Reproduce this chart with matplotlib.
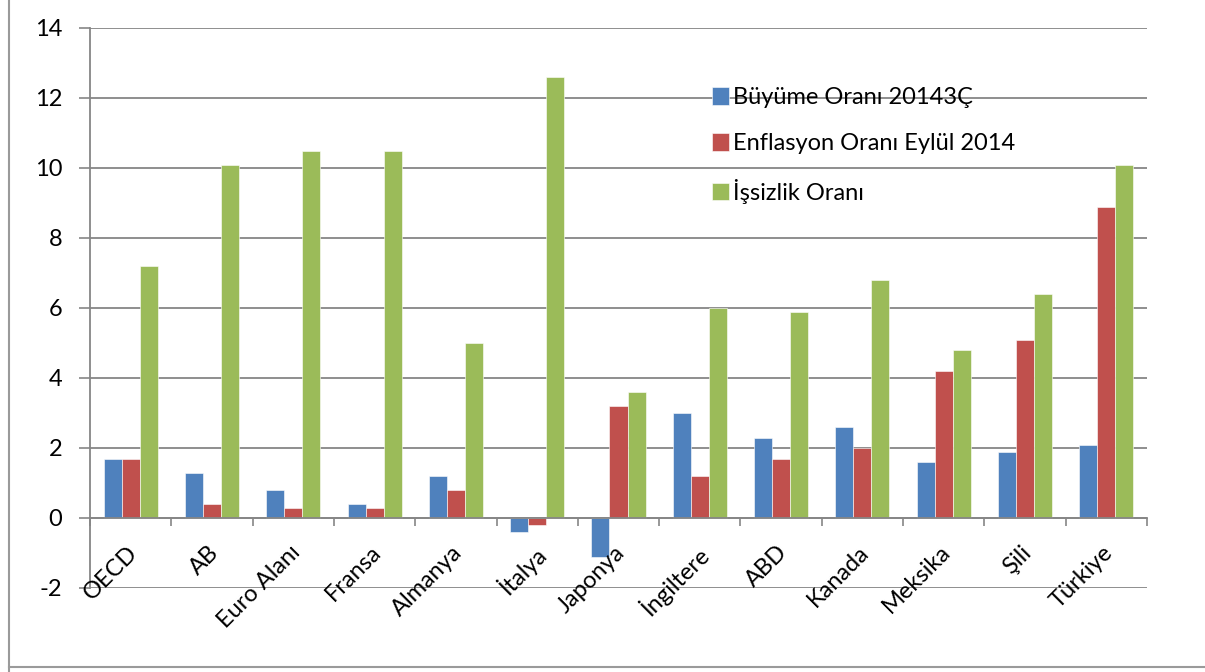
import matplotlib
matplotlib.use("Agg")
import matplotlib.pyplot as plt
from matplotlib.lines import Line2D
import numpy as np

categories = ["OECD", "AB", "Euro Alanı", "Fransa", "Almanya", "İtalya", "Japonya",
              "İngiltere", "ABD", "Kanada", "Meksika", "Şili", "Türkiye"]
buyume = [1.7, 1.3, 0.8, 0.4, 1.2, -0.4, -1.1, 3.0, 2.3, 2.6, 1.6, 1.9, 2.1]
enflasyon = [1.7, 0.4, 0.3, 0.3, 0.8, -0.2, 3.2, 1.2, 1.7, 2.0, 4.2, 5.1, 8.9]
issizlik = [7.2, 10.1, 10.5, 10.5, 5.0, 12.6, 3.6, 6.0, 5.9, 6.8, 4.8, 6.4, 10.1]
series_names = ["Büyüme Oranı 20143Ç", "Enflasyon Oranı Eylül 2014", "İşsizlik Oranı"]
colors = ["#4F81BD", "#C0504D", "#9BBB59"]
yticks = [-2, 0, 2, 4, 6, 8, 10, 12, 14]

plt.rcParams['font.family'] = ['Lato', 'DejaVu Sans']
FS = 17

fig = plt.figure(figsize=(12.05, 6.72), dpi=100)
ax = fig.add_axes([90/1205, 1-588/672, (1147-90)/1205, (588-28)/672])

x = np.arange(len(categories))
w = 0.222
for k, (vals, c, name) in enumerate(zip([buyume, enflasyon, issizlik], colors, series_names)):
    ax.bar(x + (k-1)*w, vals, w, color=c, label=name, edgecolor='white', linewidth=0.4, zorder=3)

ax.set_xlim(-0.5, len(categories)-0.5)
ax.set_ylim(-2, 14)
ax.set_yticks(yticks)
ax.set_yticklabels([str(v) for v in yticks], fontsize=FS)
ax.yaxis.grid(True, color='#868686', linewidth=1.3, zorder=0)
ax.tick_params(axis='y', length=8, width=1.2, color='#868686', pad=12)

for s in ['top', 'right']:
    ax.spines[s].set_visible(False)
ax.spines['left'].set_color('#868686')
ax.spines['left'].set_linewidth(1.3)
ax.spines['bottom'].set_position(('data', 0))
ax.spines['bottom'].set_color('#868686')
ax.spines['bottom'].set_linewidth(1.3)
ax.spines['bottom'].set_zorder(4)

ax.set_xticks(np.arange(len(categories)+1) - 0.5)
ax.set_xticklabels([])
ax.tick_params(axis='x', length=6, width=1.2, color='#868686', direction='out')

for i, cat in enumerate(categories):
    ax.annotate(cat, xy=(i, 0), xycoords='data', xytext=(-3, -17), textcoords='offset points',
                rotation=45, ha='right', va='top', rotation_mode='anchor', fontsize=FS)

leg = ax.legend(loc='upper left', bbox_to_anchor=(0.568, 0.932), frameon=False, fontsize=FS,
                handlelength=0.75, handleheight=0.75, handletextpad=0.15, labelspacing=1.05)

fig.add_artist(Line2D([9/1205, 9/1205], [0, 1], transform=fig.transFigure, color='#9a9a9a', linewidth=1.5))
fig.add_artist(Line2D([9/1205, 1], [1-667/672, 1-667/672], transform=fig.transFigure, color='#9a9a9a', linewidth=1.5))

fig.savefig("out.png", dpi=100)
